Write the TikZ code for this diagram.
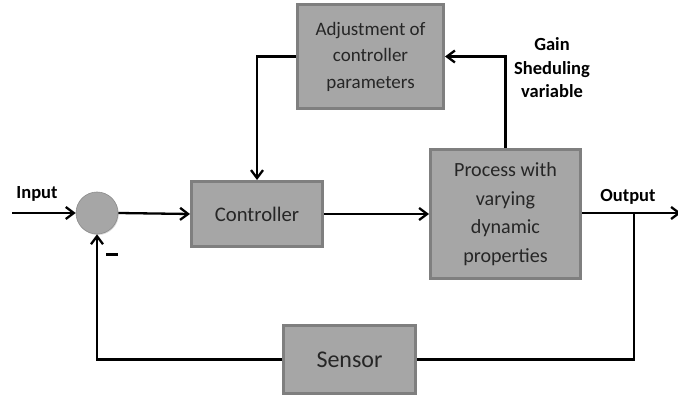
\documentclass[tikz,border=0pt]{standalone}
\usepackage{fontspec}
\setmainfont{Carlito}
\usetikzlibrary{arrows.meta,shadows}
\definecolor{boxfill}{HTML}{A6A6A6}
\definecolor{boxedge}{HTML}{7F7F7F}
\definecolor{txt}{HTML}{262626}
\begin{document}
\begin{tikzpicture}[x=1pt,y=-1pt,
  blk/.style={draw=boxedge, line width=3pt, fill=boxfill, text=txt, align=center, inner sep=0pt,
    drop shadow={shadow xshift=1pt, shadow yshift=-1.5pt, fill=black!25, opacity=0.6}},
  sumc/.style={circle, draw=black!45, line width=0.6pt, fill=boxfill, minimum size=42pt, inner sep=0pt,
    drop shadow={shadow xshift=0.8pt, shadow yshift=-1pt, fill=black!25, opacity=0.6}},
  arr/.style={line width=2.3pt, -{Straight Barb[length=8pt,width=12pt]}},
  ln/.style={line width=2.3pt},
  lbl/.style={font=\bfseries\fontsize{18.5}{23.5}\selectfont, text=black, align=center, inner sep=0pt}]
\useasboundingbox (0,0) rectangle (678,398);
\fill[white] (0,0) rectangle (678,398);

% blocks
\node[blk, minimum width=146pt, minimum height=104pt, font=\fontsize{19}{26.5}\selectfont]
  (adj) at (370.5,56.5) {Adjustment of\\controller\\parameters};
\node[blk, minimum width=131pt, minimum height=65pt, font=\fontsize{20.7}{25}\selectfont]
  (ctrl) at (257,214) {Controller};
\node[blk, minimum width=150pt, minimum height=129pt, font=\fontsize{20.1}{28.5}\selectfont]
  (proc) at (505.5,214) {Process with\\varying\\dynamic\\properties};
\node[blk, minimum width=132pt, minimum height=68pt, font=\fontsize{24}{28}\selectfont]
  (sens) at (349.5,359.5) {Sensor};
\node[sumc] (sum) at (97,213) {};

% free ends
\coordinate (in) at (12,213);
\coordinate (out) at (681,213);
\coordinate (br) at (634,213);

% labels
\node[lbl] (inlbl) at (37,194) {Input};
\node[lbl] (outlbl) at (628,197) {Output};
\node[lbl] (gain) at (552,68) {Gain\\Sheduling\\variable};
\node[inner sep=0pt, text=black] (minus) at (112,255) {\rule{12pt}{3pt}};

% connectors
\draw[arr] (in) -- (sum.west);
\draw[arr] (sum.east) -- (ctrl.west);
\draw[arr] (ctrl.east) -- (proc.west |- ctrl.east);
\draw[arr] (proc.east |- br) -- (out);
\draw[ln] (br) |- (sens.east);
\draw[arr] (sens.west) -| (sum.south);
\draw[arr] (proc.north) |- (adj.east);
\draw[arr] (adj.west) -| (ctrl.north);
\end{tikzpicture}
\end{document}
